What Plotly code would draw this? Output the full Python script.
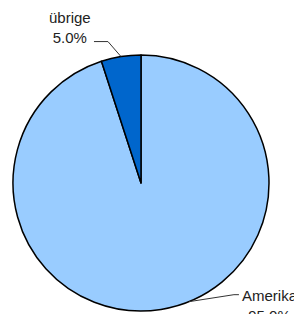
import math
import plotly.graph_objects as go

labels = ["Amerika", "übrige"]
values = [95.0, 5.0]
colors = ["#99CCFF", "#0066CC"]

OFF = 8  # default page body margin
W, H = 302 - OFF, 314 - OFF
cx, cy, R = 141 - OFF, 183 - OFF, 128

fig = go.Figure(go.Pie(
    labels=labels, values=values, sort=False, direction="clockwise",
    rotation=0, textinfo="none", hoverinfo="label+percent",
    marker=dict(colors=colors, line=dict(color="#000000", width=1.5)),
    domain=dict(x=[(cx - R) / W, (cx + R) / W], y=[1 - (cy + R) / H, 1 - (cy - R) / H]),
    showlegend=False,
))

def px(x):
    return x / W

def py(y):
    return 1 - y / H

FONT = dict(family="Liberation Sans, Arial", size=15, color="#222222")
total = sum(values)
start = 0.0
shapes, annos = [], []
# label layout: (angle shift deg, elbow dx, elbow dy, tail dx, side)
layout_params = {"Amerika": (-13, 45, -7, 5, "right"), "übrige": (0, -13, -15, -14, "left")}
for lab, v in zip(labels, values):
    frac = v / total
    mid = start + frac * 180  # degrees clockwise from 12 o'clock
    start += frac * 360
    shift, edx, edy, tdx, side = layout_params[lab]
    a = math.radians(mid + shift)
    ex = cx + R * math.sin(a)
    ey = cy - R * math.cos(a)
    bx, by = ex + edx, ey + edy
    tx = bx + tdx
    shapes.append(dict(type="path", xref="paper", yref="paper",
                       path=f"M {px(ex)} {py(ey)} L {px(bx)} {py(by)} L {px(tx)} {py(by)}",
                       line=dict(color="#333333", width=1)))
    pct = f"{frac*100:.1f}%"
    if side == "left":
        annos.append(dict(x=px(tx - 1), y=py(by + 6), xref="paper", yref="paper",
                          text=f"{lab}<br>{pct}", showarrow=False, xanchor="right",
                          yanchor="bottom", align="center", font=FONT))
    else:
        annos.append(dict(x=px(tx + 1), y=py(by - 10), xref="paper", yref="paper",
                          text=f"{lab}<br>{pct}", showarrow=False, xanchor="left",
                          yanchor="top", align="center", font=FONT))

fig.update_layout(width=W, height=H, margin=dict(l=0, r=0, t=0, b=0),
                  paper_bgcolor="white", plot_bgcolor="white",
                  shapes=shapes, annotations=annos)
fig.write_html("out.html")
